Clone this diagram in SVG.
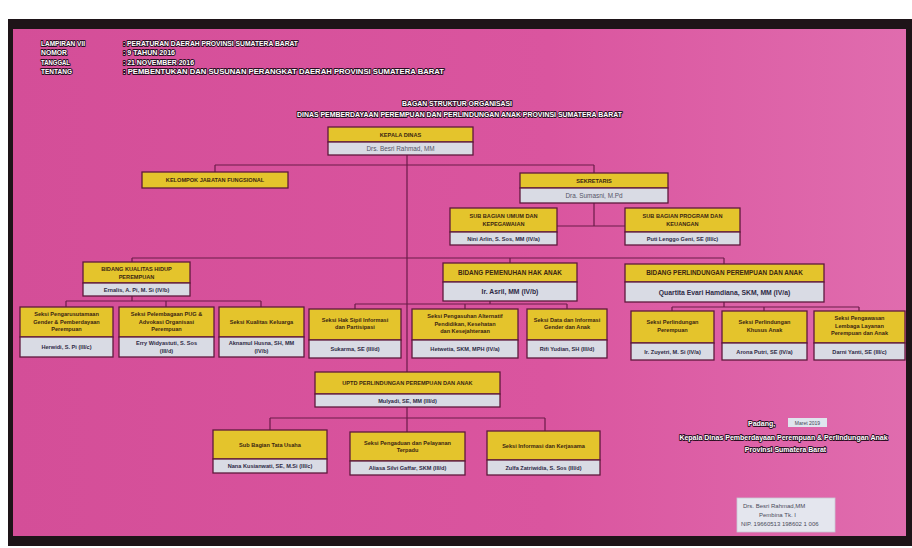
<svg xmlns="http://www.w3.org/2000/svg" width="912" height="548" viewBox="0 0 912 548">
<defs>
<linearGradient id="pk" x1="0" y1="0" x2="1" y2="0">
<stop offset="0" stop-color="#d44e98"/>
<stop offset="0.6" stop-color="#da559f"/>
<stop offset="1" stop-color="#e06cae"/>
</linearGradient>
<style>
.y{fill:#e4c42c;stroke:#5e1a3c;stroke-width:1.3}
.g{fill:#d9dbe4;stroke:#5e1a3c;stroke-width:1.3}
.c{fill:none;stroke:#6a1c48;stroke-width:1.2}
.h{font-family:"Liberation Sans",Arial,sans-serif;font-weight:bold;font-size:5.6px;fill:#3b2612;text-anchor:middle}
.hb{font-family:"Liberation Sans",Arial,sans-serif;font-weight:bold;font-size:6.4px;fill:#3b2612;text-anchor:middle}
.n{font-family:"Liberation Sans",Arial,sans-serif;font-weight:bold;font-size:5.6px;fill:#2e2a44;text-anchor:middle}
.nb{font-family:"Liberation Sans",Arial,sans-serif;font-weight:bold;font-size:6.8px;fill:#2e2a44;text-anchor:middle}
.nk{font-family:"Liberation Sans",Arial,sans-serif;font-size:6.4px;fill:#555566;text-anchor:middle}
.w{font-family:"Liberation Sans",Arial,sans-serif;font-weight:bold;font-size:6.6px;fill:#ffffff;stroke:#2a0e22;stroke-width:1.8px;paint-order:stroke;stroke-linejoin:round}
.ws{font-family:"Liberation Sans",Arial,sans-serif;font-weight:bold;font-size:7px;fill:#ffffff;stroke:#2a0e22;stroke-width:1.8px;paint-order:stroke;stroke-linejoin:round}
.s{font-family:"Liberation Sans",Arial,sans-serif;font-size:6px;fill:#4a4a5a}
</style>
</defs>
<rect x="0" y="0" width="912" height="548" fill="#ffffff"/>
<rect x="8" y="19" width="904" height="527" fill="#1e1418"/>
<rect x="13" y="29" width="893" height="507" fill="url(#pk)"/>

<g id="header">
<text class="w" x="41" y="45.5" textLength="44" lengthAdjust="spacingAndGlyphs">LAMPIRAN VII</text>
<text class="w" x="41" y="55" textLength="26" lengthAdjust="spacingAndGlyphs">NOMOR</text>
<text class="w" x="41" y="64.5" textLength="29" lengthAdjust="spacingAndGlyphs">TANGGAL</text>
<text class="w" x="41" y="74" textLength="31" lengthAdjust="spacingAndGlyphs">TENTANG</text>
<text class="w" x="123" y="45.5" textLength="175" lengthAdjust="spacingAndGlyphs">: PERATURAN DAERAH PROVINSI SUMATERA BARAT</text>
<text class="w" x="123" y="55" textLength="52" lengthAdjust="spacingAndGlyphs">: 9 TAHUN 2016</text>
<text class="w" x="123" y="64.5" textLength="71" lengthAdjust="spacingAndGlyphs">: 21 NOVEMBER 2016</text>
<text class="w" x="123" y="74" textLength="321" lengthAdjust="spacingAndGlyphs">: PEMBENTUKAN DAN SUSUNAN PERANGKAT DAERAH PROVINSI SUMATERA BARAT</text>
<text class="w" x="402" y="106" textLength="110" lengthAdjust="spacingAndGlyphs">BAGAN STRUKTUR ORGANISASI</text>
<text class="w" x="297" y="117" textLength="325" lengthAdjust="spacingAndGlyphs">DINAS PEMBERDAYAAN PEREMPUAN DAN PERLINDUNGAN ANAK PROVINSI SUMATERA BARAT</text>
</g>

<g id="connectors">
<path class="c" d="M407 155 V372"/>
<path class="c" d="M215 165 H594 M215 165 V172 M594 165 V173"/>
<path class="c" d="M594 203 V226 M557 226 H625"/>
<path class="c" d="M132 258 H724 M132 258 V262 M510 258 V263 M724 258 V264"/>
<path class="c" d="M132 296 V301 M66 301 H261 M66 301 V307 M166 301 V307 M261 301 V307"/>
<path class="c" d="M490 301 V304 M355 304 H567 M355 304 V309 M465 304 V309 M567 304 V309"/>
<path class="c" d="M724 302 V307 M672 307 H859 M672 307 V311 M764 307 V311 M859 307 V311"/>
<path class="c" d="M407 407 V418 M270 418 H545 M270 418 V430 M407 418 V432 M545 418 V431"/>
</g>

<g id="kepala-dinas">
<rect class="y" x="328" y="127" width="145" height="15"/>
<rect class="g" x="328" y="142" width="145" height="13"/>
<text class="h" x="400.5" y="136.7">KEPALA DINAS</text>
<text class="nk" x="400.5" y="150.8">Drs. Besri Rahmad, MM</text>
</g>

<g id="kelompok">
<rect class="y" x="142" y="172" width="146" height="16"/>
<text class="h" x="215" y="182.2">KELOMPOK JABATAN FUNGSIONAL</text>
</g>

<g id="sekretaris">
<rect class="y" x="520" y="173" width="148" height="15"/>
<rect class="g" x="520" y="188" width="148" height="15"/>
<text class="h" x="594" y="182.7">SEKRETARIS</text>
<text class="nk" x="594" y="197.8">Dra. Sumasni, M.Pd</text>
</g>

<g id="sub-umum">
<rect class="y" x="450" y="208" width="107" height="24"/>
<rect class="g" x="450" y="232" width="107" height="13"/>
<text class="h" x="503.5" y="218">SUB BAGIAN UMUM DAN</text>
<text class="h" x="503.5" y="226">KEPEGAWAIAN</text>
<text class="n" x="503.5" y="240.6">Nini Arlin, S. Sos, MM (IV/a)</text>
</g>

<g id="sub-program">
<rect class="y" x="625" y="208" width="115" height="24"/>
<rect class="g" x="625" y="232" width="115" height="13"/>
<text class="h" x="682.5" y="218">SUB BAGIAN PROGRAM DAN</text>
<text class="h" x="682.5" y="226">KEUANGAN</text>
<text class="n" x="682.5" y="240.6">Puti Lenggo Geni, SE (III/c)</text>
</g>

<g id="bidang-kualitas">
<rect class="y" x="83" y="262" width="107" height="21"/>
<rect class="g" x="83" y="283" width="107" height="13"/>
<text class="h" x="136.5" y="270.8">BIDANG KUALITAS HIDUP</text>
<text class="h" x="136.5" y="278.6">PEREMPUAN</text>
<text class="n" x="136.5" y="291.6">Ernalis, A. Pi, M. Si (IV/b)</text>
</g>

<g id="bidang-pemenuhan">
<rect class="y" x="443" y="263" width="134" height="19"/>
<rect class="g" x="443" y="282" width="134" height="19"/>
<text class="hb" x="510" y="274.8">BIDANG PEMENUHAN HAK ANAK</text>
<text class="nb" x="510" y="294">Ir. Asril, MM (IV/b)</text>
</g>

<g id="bidang-perlindungan">
<rect class="y" x="625" y="264" width="199" height="18"/>
<rect class="g" x="625" y="282" width="199" height="20"/>
<text class="hb" x="724.5" y="275.3">BIDANG PERLINDUNGAN PEREMPUAN DAN ANAK</text>
<text class="nb" x="724.5" y="294.6">Quartita Evari Hamdiana, SKM, MM (IV/a)</text>
</g>

<g id="seksi-pengarusutamaan">
<rect class="y" x="20" y="307" width="93" height="30"/>
<rect class="g" x="20" y="337" width="93" height="20"/>
<text class="h" x="66.5" y="316">Seksi Pengarusutamaan</text>
<text class="h" x="66.5" y="323.5">Gender &amp; Pemberdayaan</text>
<text class="h" x="66.5" y="331">Perempuan</text>
<text class="n" x="66.5" y="349">Herwidi, S. Pi (III/c)</text>
</g>

<g id="seksi-pelembagaan">
<rect class="y" x="119" y="307" width="95" height="30"/>
<rect class="g" x="119" y="337" width="95" height="20"/>
<text class="h" x="166.5" y="316">Seksi Pelembagaan PUG &amp;</text>
<text class="h" x="166.5" y="323.5">Advokasi Organisasi</text>
<text class="h" x="166.5" y="331">Perempuan</text>
<text class="n" x="166.5" y="345">Erry Widyastuti, S. Sos</text>
<text class="n" x="166.5" y="352.5">(III/d)</text>
</g>

<g id="seksi-kualitas-keluarga">
<rect class="y" x="219" y="307" width="85" height="30"/>
<rect class="g" x="219" y="337" width="85" height="20"/>
<text class="h" x="261.5" y="324">Seksi Kualitas Keluarga</text>
<text class="n" x="261.5" y="345">Aknamul Husna, SH, MM</text>
<text class="n" x="261.5" y="352.5">(IV/b)</text>
</g>

<g id="seksi-hak-sipil">
<rect class="y" x="309" y="309" width="92" height="31"/>
<rect class="g" x="309" y="340" width="92" height="18"/>
<text class="h" x="355" y="321.5">Seksi Hak Sipil Informasi</text>
<text class="h" x="355" y="329">dan Partisipasi</text>
<text class="n" x="355" y="351">Sukarma, SE (III/d)</text>
</g>

<g id="seksi-pengasuhan">
<rect class="y" x="412" y="309" width="106" height="31"/>
<rect class="g" x="412" y="340" width="106" height="18"/>
<text class="h" x="465" y="318">Seksi Pengasuhan Alternatif</text>
<text class="h" x="465" y="325.5">Pendidikan, Kesehatan</text>
<text class="h" x="465" y="333">dan Kesejahteraan</text>
<text class="n" x="465" y="351">Hetwetia, SKM, MPH (IV/a)</text>
</g>

<g id="seksi-data">
<rect class="y" x="527" y="309" width="80" height="31"/>
<rect class="g" x="527" y="340" width="80" height="18"/>
<text class="h" x="567" y="321.5">Seksi Data dan Informasi</text>
<text class="h" x="567" y="329">Gender dan Anak</text>
<text class="n" x="567" y="351">Rifi Yudian, SH (III/d)</text>
</g>

<g id="seksi-perlindungan-perempuan">
<rect class="y" x="631" y="311" width="83" height="32"/>
<rect class="g" x="631" y="343" width="83" height="17"/>
<text class="h" x="672.5" y="324">Seksi Perlindungan</text>
<text class="h" x="672.5" y="331.5">Perempuan</text>
<text class="n" x="672.5" y="353.6">Ir. Zuyetri, M. Si (IV/a)</text>
</g>

<g id="seksi-perlindungan-anak">
<rect class="y" x="722" y="311" width="85" height="32"/>
<rect class="g" x="722" y="343" width="85" height="17"/>
<text class="h" x="764.5" y="324">Seksi Perlindungan</text>
<text class="h" x="764.5" y="331.5">Khusus Anak</text>
<text class="n" x="764.5" y="353.6">Arona Putri, SE (IV/a)</text>
</g>

<g id="seksi-pengawasan">
<rect class="y" x="814" y="311" width="91" height="32"/>
<rect class="g" x="814" y="343" width="91" height="17"/>
<text class="h" x="859.5" y="320">Seksi Pengawasan</text>
<text class="h" x="859.5" y="327.5">Lembaga Layanan</text>
<text class="h" x="859.5" y="335">Perempuan dan Anak</text>
<text class="n" x="859.5" y="353.6">Darni Yanti, SE (III/c)</text>
</g>

<g id="uptd">
<rect class="y" x="315" y="372" width="185" height="22"/>
<rect class="g" x="315" y="394" width="185" height="13"/>
<text class="h" x="407.5" y="385">UPTD PERLINDUNGAN PEREMPUAN DAN ANAK</text>
<text class="n" x="407.5" y="402.6">Mulyadi, SE, MM (III/d)</text>
</g>

<g id="sub-tata-usaha">
<rect class="y" x="213" y="430" width="114" height="29"/>
<rect class="g" x="213" y="459" width="114" height="14"/>
<text class="h" x="270" y="446.5">Sub Bagian Tata Usaha</text>
<text class="n" x="270" y="468">Nana Kusianwati, SE, M.Si (III/c)</text>
</g>

<g id="seksi-pengaduan">
<rect class="y" x="350" y="432" width="115" height="29"/>
<rect class="g" x="350" y="461" width="115" height="14"/>
<text class="h" x="407.5" y="444.5">Seksi Pengaduan dan Pelayanan</text>
<text class="h" x="407.5" y="452">Terpadu</text>
<text class="n" x="407.5" y="470">Aliasa Silvi Gaffar, SKM (III/d)</text>
</g>

<g id="seksi-informasi">
<rect class="y" x="487" y="431" width="113" height="29"/>
<rect class="g" x="487" y="460" width="113" height="15"/>
<text class="h" x="543.5" y="447.5">Seksi Informasi dan Kerjasama</text>
<text class="n" x="543.5" y="469.6">Zulfa Zatriwidia, S. Sos (III/d)</text>
</g>

<g id="signature">
<text class="ws" x="748" y="425.5">Padang,</text>
<rect x="788" y="418" width="39" height="9" fill="#dfe5ee"/>
<text x="807.5" y="424.6" text-anchor="middle" font-family="Liberation Sans, Arial, sans-serif" font-size="5px" fill="#444455">Maret 2019</text>
<text class="ws" x="783.5" y="439.5" text-anchor="middle">Kepala Dinas Pemberdayaan Perempuan &amp; Perlindungan Anak</text>
<text class="ws" x="785.5" y="451.5" text-anchor="middle">Provinsi Sumatera Barat</text>
<rect x="737" y="498" width="98" height="34" fill="#e4e6ee" stroke="#c8c8d4" stroke-width="0.8"/>
<text class="s" x="743" y="507.5">Drs. Besri Rahmad,MM</text>
<text class="s" x="759" y="516.5" font-size="5.5px">Pembina Tk. I</text>
<text class="s" x="741" y="525.5" font-size="5px">NIP. 19660513 198602 1 006</text>
</g>
</svg>
